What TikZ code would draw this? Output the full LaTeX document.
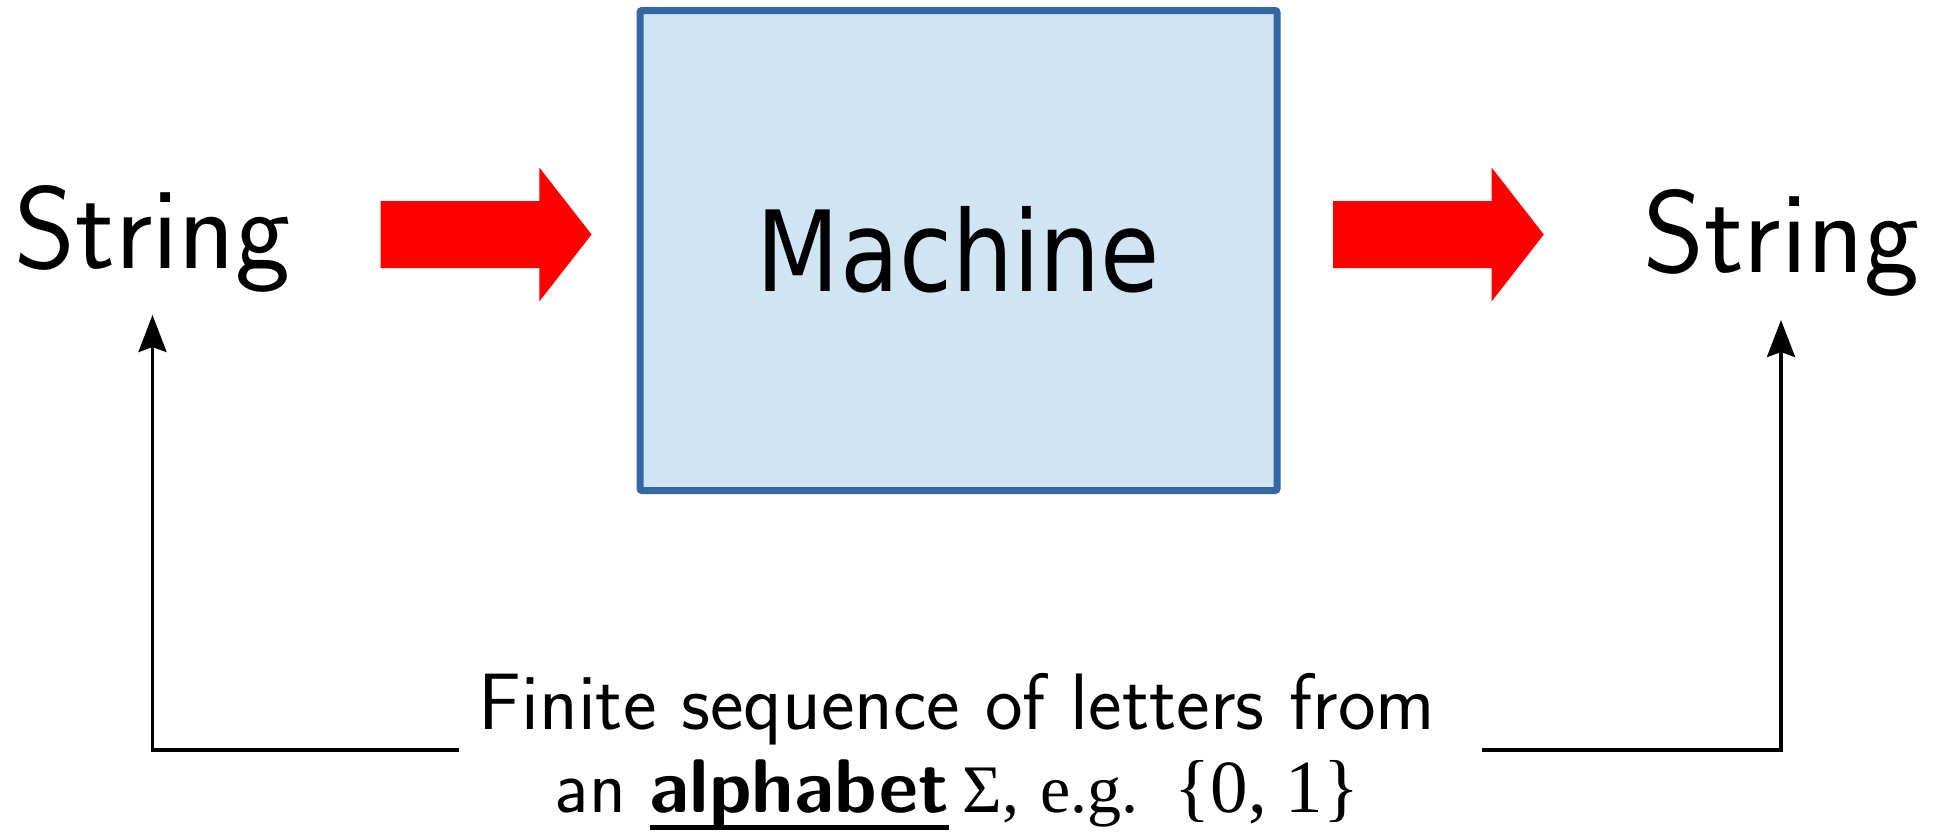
\documentclass[tikz,border=0pt]{standalone}
\usepackage{fontspec}
\newfontfamily\machfont{DejaVu Sans}
\newfontfamily\tmsfont{Liberation Serif}
\usetikzlibrary{arrows.meta}
\definecolor{boxblue}{RGB}{53,102,166}
\definecolor{boxfill}{RGB}{208,229,243}
\newsavebox\ulbx
\newcommand\ulword[1]{\sbox\ulbx{#1}\rlap{\rule[-18pt]{\wd\ulbx}{5pt}}\usebox\ulbx}
\begin{document}
\begin{tikzpicture}[x=1pt,y=-1pt,
  strtext/.style={font=\sffamily\fontsize{117}{120}\selectfont, inner sep=0pt, anchor=base},
  machbox/.style={draw=boxblue, fill=boxfill, line width=7pt, rounded corners=2pt,
    minimum width=637pt, minimum height=480pt, inner sep=0pt,
    font=\machfont\fontsize{112}{120}\selectfont},
  redarrow/.style={fill=red, draw=none},
  conn/.style={line width=3.3pt, -{Stealth[length=37pt,width=28pt,inset=5pt]}},
  note/.style={font=\sffamily\fontsize{80}{83}\selectfont, inner sep=0pt, anchor=base}]
\useasboundingbox (0,0) rectangle (1944,838);
\fill[white] (0,0) rectangle (1944,838);
% machine box
\node[machbox] (mach) at (958.5,250.5) {\raisebox{3pt}{\scalebox{0.86}[1]{Machine}}};
% strings
\node[strtext] (sl) at (152.5,268) {String};
\node[strtext] (sr) at (1781,272) {String};
% red block arrows
\path[redarrow] (380.7,201) -- (539.3,201) -- (539.3,167.5) -- (591.6,234.5)
  -- (539.3,301.5) -- (539.3,268) -- (380.7,268) -- cycle;
\path[redarrow] (1333,201) -- (1491.6,201) -- (1491.6,167.5) -- (1543.8,234.5)
  -- (1491.6,301.5) -- (1491.6,268) -- (1333,268) -- cycle;
% bottom note
\node[note] (txt) at (957,729) {\begin{tabular}[t]{@{}c@{}}Finite sequence of letters from\\
  {\fontsize{76}{83}\selectfont an \ulword{\bfseries alphabet}}\hspace{14pt}{\tmsfont\fontsize{68}{83}\selectfont Σ,\hspace{21pt}e.g.\hspace{36pt}{\fontsize{75}{83}\selectfont\{0, 1\}}}\end{tabular}};
% connectors
\coordinate (lend) at (459,750);
\coordinate (rend) at (1481.6,750);
\draw[conn] (lend) -| ([yshift=-47pt]sl.base);
\draw[conn] (rend) -| ([yshift=-48pt]sr.base);
\end{tikzpicture}
\end{document}
